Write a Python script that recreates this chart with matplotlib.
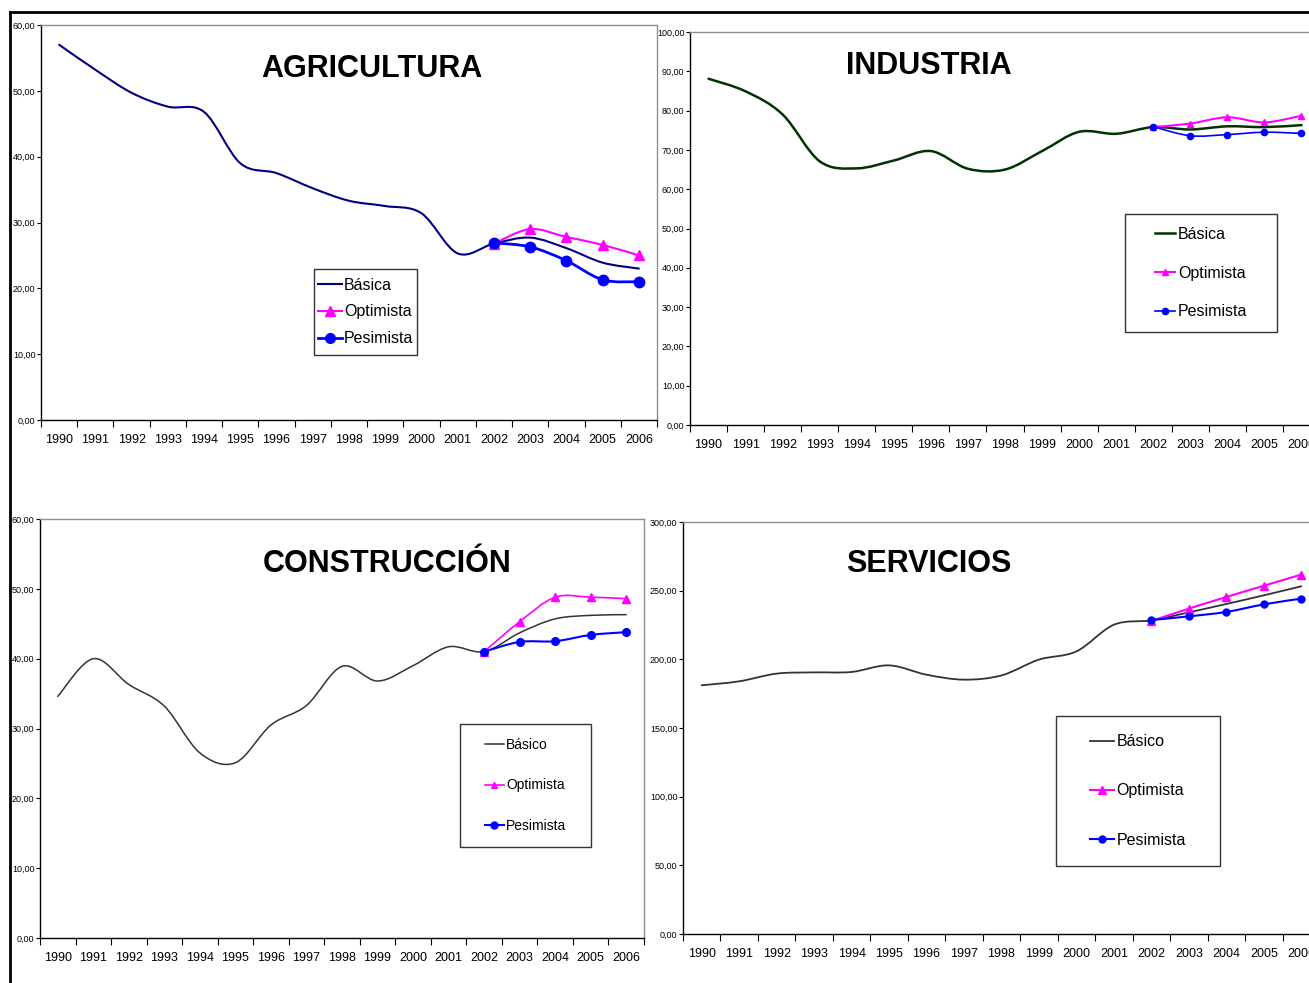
import matplotlib
matplotlib.use("Agg")
import matplotlib.pyplot as plt
import numpy as np
from matplotlib.path import Path
from matplotlib.patches import PathPatch, Rectangle
from matplotlib.lines import Line2D

plt.rcParams['font.family'] = ['Liberation Sans Narrow', 'Liberation Sans', 'DejaVu Sans']

years = [str(y) for y in range(1990, 2007)]
proj_years = years[12:]

# AGRICULTURA
agri_basica = [57.0, 53.2, 49.7, 47.6, 46.8, 39.0, 37.5, 35.2, 33.3, 32.5, 31.4, 25.3, 26.8, 27.7, 26.1, 23.9, 23.0]
agri_opt = [26.8, 29.0, 27.8, 26.6, 25.0]
agri_pes = [26.9, 26.3, 24.2, 21.3, 21.0]

# INDUSTRIA
ind_basica = [88.1, 84.9, 79.0, 67.1, 65.3, 67.3, 69.7, 65.2, 65.0, 69.7, 74.6, 74.1, 75.8, 75.2, 76.0, 75.8, 76.3]
ind_opt = [75.8, 76.7, 78.3, 77.0, 78.7]
ind_pes = [75.9, 73.6, 73.9, 74.5, 74.2]

# CONSTRUCCION
cons_basico = [34.6, 40.0, 36.3, 33.2, 26.5, 25.1, 30.5, 33.3, 38.9, 36.8, 39.0, 41.7, 41.0, 43.7, 45.7, 46.2, 46.3]
cons_opt = [41.0, 45.3, 48.8, 48.8, 48.6]
cons_pes = [41.0, 42.4, 42.5, 43.4, 43.8]

# SERVICIOS
serv_basico = [181.1, 184.0, 189.6, 190.5, 190.8, 195.6, 188.8, 185.2, 188.3, 199.8, 205.8, 225.2, 228.4, 234.2, 240.3, 246.6, 253.2]
serv_opt = [228.0, 236.9, 245.4, 253.6, 261.7]
serv_pes = [228.6, 231.3, 234.5, 240.0, 244.2]

W, H = 1309, 983
fig = plt.figure(figsize=(W / 100, H / 100), dpi=100)


def fx(x):
    return x / W


def fy(y):
    return 1 - y / H


def smooth(ax, xs, ys, color, lw, z=2):
    # excel-like smoothed line as bezier path through the data points
    pts = np.column_stack([xs, ys]).astype(float)
    n = len(pts)
    verts = [pts[0]]
    codes = [Path.MOVETO]
    for i in range(n - 1):
        p0 = pts[i - 1] if i > 0 else pts[i]
        p1 = pts[i]
        p2 = pts[i + 1]
        p3 = pts[i + 2] if i + 2 < n else pts[i + 1]
        verts += [p1 + (p2 - p0) / 6, p2 - (p3 - p1) / 6, p2]
        codes += [Path.CURVE4] * 3
    ax.add_patch(PathPatch(Path(verts, codes), fill=False, edgecolor=color, lw=lw, zorder=z,
                           capstyle='round', joinstyle='round'))


def panel(box, ymax, ystep, basic, opt, pes, bcolor, blw, olw, plw, oms, pms):
    l, t, r, b = box
    ax = fig.add_axes([fx(l), fy(b), fx(r - l), (b - t) / H])
    x = np.arange(len(years))
    xp = x[12:]
    smooth(ax, x, basic, bcolor, blw, 2)
    smooth(ax, xp, opt, '#FF00FF', olw, 3)
    ax.plot(xp, opt, ls='none', marker='^', ms=oms, color='#FF00FF', zorder=4)
    smooth(ax, xp, pes, '#0000FF', plw, 5)
    ax.plot(xp, pes, ls='none', marker='o', ms=pms, color='#0000FF', zorder=6)
    ax.set_xlim(-0.5, len(years) - 0.5)
    ax.set_ylim(0, ymax)
    ax.set_xticks(np.arange(-0.5, len(years)))
    ax.set_xticklabels([])
    ax.set_xticks(x, minor=True)
    ax.set_xticklabels(years, minor=True, fontsize=9)
    ax.tick_params(axis='x', which='major', length=5, width=0.8, direction='out')
    ax.tick_params(axis='x', which='minor', length=0, pad=10)
    yt = np.arange(0, ymax + 0.1, ystep)
    ax.set_yticks(yt)
    ax.set_yticklabels([("%.2f" % v).replace('.', ',') for v in yt], fontsize=6.5)
    ax.tick_params(axis='y', length=3, width=0.8, pad=1)
    for s in ['left', 'bottom']:
        ax.spines[s].set_color('black')
        ax.spines[s].set_linewidth(1)
    for s in ['top', 'right']:
        ax.spines[s].set_color('#909090')
        ax.spines[s].set_linewidth(1)
    return ax


def legend_box(ax, box, labels, bcolor, blw, olw, plw, oms, pms, size, spacing, hlen):
    l, t, r, b = box
    fig.add_artist(Rectangle((fx(l), fy(b)), fx(r - l), (b - t) / H, transform=fig.transFigure,
                             fill=False, edgecolor='#333333', lw=1))
    handles = [Line2D([], [], color=bcolor, lw=blw),
               Line2D([], [], color='#FF00FF', lw=olw, marker='^', ms=oms),
               Line2D([], [], color='#0000FF', lw=plw, marker='o', ms=pms)]
    fig.legend(handles, labels, loc='center', bbox_to_anchor=(fx((l + r) / 2), fy((t + b) / 2)),
               frameon=False, fontsize=size, labelspacing=spacing, handlelength=hlen,
               handletextpad=0.15, borderpad=0)


lab_a = ['Básica', 'Optimista', 'Pesimista']
lab_o = ['Básico', 'Optimista', 'Pesimista']

# frame round the whole page
fig.add_artist(Line2D([fx(10), fx(W)], [fy(12), fy(12)], transform=fig.transFigure, color='black', lw=2))
fig.add_artist(Line2D([fx(10), fx(10)], [fy(12), fy(H)], transform=fig.transFigure, color='black', lw=2))

tfam = ['Liberation Sans', 'DejaVu Sans']

a1 = panel((41, 25, 657, 420), 60, 10, agri_basica, agri_opt, agri_pes, '#000080', 1.5, 1.5, 2, 6.5, 7.5)
fig.text(fx(372), fy(69), 'AGRICULTURA', ha='center', va='center', fontsize=22, fontweight='bold', family=tfam)
legend_box(a1, (314, 269, 417, 355), lab_a, '#000080', 1.5, 1.5, 2, 6.5, 7, 11.5, 0.75, 1.5)

a2 = panel((690, 32, 1320, 425), 100, 10, ind_basica, ind_opt, ind_pes, '#003300', 1.8, 1.5, 1.2, 4.5, 4.5)
fig.text(fx(929), fy(66), 'INDUSTRIA', ha='center', va='center', fontsize=22, fontweight='bold', family=tfam)
legend_box(a2, (1125, 214, 1277, 332), lab_a, '#003300', 1.8, 1.5, 1.2, 4.5, 4.5, 11.5, 1.5, 1.3)

a3 = panel((40, 519, 644, 938), 60, 10, cons_basico, cons_opt, cons_pes, '#333333', 1.1, 1.2, 1.5, 5.5, 5.5)
fig.text(fx(387), fy(564), 'CONSTRUCCIÓN', ha='center', va='center', fontsize=22, fontweight='bold', family=tfam)
legend_box(a3, (460, 724, 591, 847), lab_o, '#333333', 1.1, 1.2, 1.5, 5, 5, 10, 1.9, 1.4)

a4 = panel((683, 522, 1320, 934), 300, 50, serv_basico, serv_opt, serv_pes, '#333333', 1.3, 1.5, 1.5, 6, 5)
fig.text(fx(929), fy(564), 'SERVICIOS', ha='center', va='center', fontsize=22, fontweight='bold', family=tfam)
legend_box(a4, (1056, 716, 1220, 866), lab_o, '#333333', 1.3, 1.5, 1.5, 6, 5, 11.5, 2.15, 1.5)

fig.savefig('out.png', dpi=100)
